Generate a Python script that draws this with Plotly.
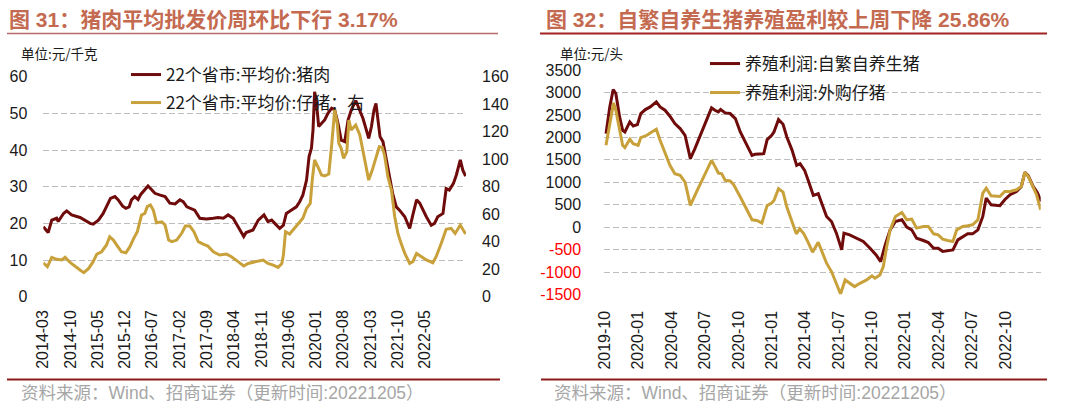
import plotly.graph_objects as go
import pandas as pd

# ---------------- data ----------------
pork_dates = ["2014-03-01","2014-04-07","2014-05-04","2014-06-10","2014-06-22","2014-08-01","2014-08-25","2014-10-01",
              "2014-12-04","2015-01-10","2015-02-18","2015-03-13","2015-04-22","2015-05-28","2015-06-22","2015-07-22",
              "2015-08-25","2015-09-19","2015-10-22","2015-11-16","2015-12-10","2015-12-28","2016-01-22","2016-02-16",
              "2016-03-07","2016-04-16","2016-05-01","2016-05-25","2016-06-22","2016-08-01","2016-09-07","2016-10-13",
              "2016-11-22","2016-12-28","2017-01-22","2017-02-19","2017-03-25","2017-04-19","2017-05-28","2017-07-16",
              "2017-09-07","2017-10-13","2017-11-22","2017-12-28","2018-02-04","2018-03-13","2018-04-25","2018-05-13",
              "2018-07-04","2018-08-13","2018-09-25","2018-10-25","2018-11-22","2018-12-16","2019-01-22","2019-02-19",
              "2019-03-13","2019-04-19","2019-05-28","2019-06-22","2019-07-16","2019-08-13","2019-09-01","2019-09-19",
              "2019-10-01","2019-10-13","2019-10-25","2019-11-13","2019-12-04","2019-12-28","2020-01-22","2020-02-19",
              "2020-03-13","2020-04-07","2020-05-01","2020-05-28","2020-06-22","2020-07-16","2020-08-19","2020-09-19",
              "2020-10-13","2020-11-07","2020-11-25","2020-12-16","2021-01-04","2021-01-19","2021-02-04","2021-02-19",
              "2021-03-13","2021-04-07","2021-05-01","2021-05-25","2021-06-22","2021-07-16","2021-08-25","2021-10-01",
              "2021-10-25","2021-11-22","2021-12-16","2022-01-10","2022-02-04","2022-03-13","2022-04-07","2022-05-01",
              "2022-06-10","2022-07-04","2022-07-28","2022-08-28","2022-09-19","2022-10-19","2022-11-07","2022-11-28"]
pork_vals = [19.1,17.5,20.9,21.4,20.5,22.7,23.4,22.3,
             21.6,20.9,20.0,19.8,20.9,22.7,24.5,26.8,
             27.3,26.4,24.7,24.1,24.5,26.4,27.3,26.5,
             27.9,29.8,30.2,29.3,28.2,27.7,27.3,25.5,
             25.3,26.4,25.9,24.5,24.1,23.6,21.4,21.2,
             21.4,21.6,21.4,22.3,21.4,19.1,16.4,17.5,
             18.2,20.9,22.3,20.5,20.9,20.0,18.6,19.5,
             22.7,23.6,24.5,25.9,27.7,31.8,38.2,40.5,
             45.5,55.9,53.6,46.4,47.3,48.2,50.0,51.4,
             50.9,47.3,42.7,42.3,48.2,50.9,53.5,50.9,
             48.6,45.5,43.2,46.4,50.9,52.7,48.2,43.6,
             42.3,37.3,32.7,28.2,24.5,23.6,21.8,18.6,
             22.3,26.4,25.5,23.6,21.8,19.5,20.0,21.8,
             22.7,29.5,29.1,30.9,33.2,37.3,34.5,32.9]

piglet_dates = ["2014-03-01","2014-04-01","2014-05-04","2014-06-10","2014-07-19","2014-08-13","2014-09-22","2014-10-28",
                "2014-12-04","2015-01-01","2015-02-07","2015-03-13","2015-04-10","2015-05-16","2015-06-22","2015-07-16",
                "2015-08-13","2015-09-13","2015-10-13","2015-11-16","2015-12-16","2016-01-10","2016-02-10","2016-03-13",
                "2016-04-07","2016-04-25","2016-05-19","2016-06-10","2016-07-04","2016-08-13","2016-09-07","2016-10-04",
                "2016-10-28","2016-12-04","2017-01-13","2017-02-07","2017-03-13","2017-04-13","2017-05-16","2017-06-22",
                "2017-07-28","2017-09-07","2017-10-25","2017-12-16","2018-01-22","2018-03-13","2018-04-25","2018-05-28",
                "2018-08-13","2018-09-19","2018-10-25","2018-12-04","2019-01-10","2019-02-07","2019-02-19","2019-03-07",
                "2019-04-07","2019-05-01","2019-05-28","2019-06-22","2019-07-16","2019-08-13","2019-09-10","2019-09-25",
                "2019-10-13","2019-11-07","2019-12-04","2019-12-28","2020-01-28","2020-02-19","2020-03-13","2020-04-01",
                "2020-04-13","2020-05-01","2020-05-19","2020-06-13","2020-06-28","2020-07-16","2020-08-19","2020-09-19",
                "2020-10-25","2020-11-25","2020-12-22","2021-01-19","2021-02-13","2021-03-07","2021-03-25","2021-04-19",
                "2021-05-16","2021-06-10","2021-07-04","2021-07-28","2021-08-25","2021-10-01","2021-10-25","2021-11-22",
                "2021-12-28","2022-02-04","2022-03-25","2022-04-19","2022-05-28","2022-07-04","2022-08-10","2022-09-10",
                "2022-10-19","2022-11-28"]
piglet_vals = [24.7,21.8,28.6,27.2,26.7,28.6,24.7,21.8,
               19.4,17.5,20.6,25.5,31.0,32.7,37.6,43.6,
               41.2,36.8,32.7,32.0,36.4,41.7,47.3,59.4,
               60.6,65.5,66.7,63.0,53.8,54.5,52.1,41.2,
               40.0,41.2,46.5,51.4,51.4,47.3,40.0,38.3,
               36.8,32.7,30.3,31.0,29.1,25.5,22.3,24.2,
               26.2,26.7,24.2,23.0,21.3,24.2,30.3,47.3,
               45.6,48.5,50.9,54.5,57.0,64.2,67.9,84.8,
               99.4,94.5,88.5,87.8,89.2,110.3,136.0,126.0,
               111.5,107.9,100.6,105.5,128.5,121.2,124.8,117.6,
               100.6,84.8,92.1,101.8,109.0,108.6,103.0,87.3,
               77.6,58.2,46.0,38.8,31.5,24.2,25.5,31.5,
               29.1,26.7,24.7,29.1,38.8,49.0,49.7,46.0,
               52.1,45.6]

self_dates = ["2019-10-01","2019-10-11","2019-10-20","2019-10-27","2019-11-06","2019-11-14","2019-11-20","2019-12-03",
              "2019-12-12","2019-12-23","2020-01-01","2020-01-13","2020-01-26","2020-02-11","2020-02-21","2020-03-05",
              "2020-03-18","2020-03-31","2020-04-14","2020-04-27","2020-05-03","2020-05-11","2020-05-23","2020-06-06",
              "2020-06-21","2020-07-06","2020-07-15","2020-07-24","2020-07-30","2020-08-11","2020-08-24","2020-09-07",
              "2020-09-20","2020-10-07","2020-10-21","2020-10-29","2020-11-12","2020-11-21","2020-11-30","2020-12-12",
              "2020-12-18","2020-12-30","2021-01-11","2021-01-21","2021-02-04","2021-02-16","2021-02-25","2021-03-09",
              "2021-03-20","2021-04-01","2021-04-14","2021-05-06","2021-05-19","2021-06-01","2021-06-15","2021-06-21",
              "2021-07-06","2021-07-24","2021-08-11","2021-08-29","2021-09-14","2021-09-26","2021-10-08","2021-10-21",
              "2021-11-04","2021-11-21","2021-12-04","2021-12-17","2021-12-30","2022-01-17","2022-01-30","2022-02-13",
              "2022-02-25","2022-03-09","2022-03-22","2022-04-05","2022-04-18","2022-05-01","2022-05-14","2022-05-27",
              "2022-06-10","2022-06-23","2022-07-02","2022-07-15","2022-08-07","2022-08-20","2022-09-03","2022-09-20",
              "2022-10-03","2022-10-12","2022-10-21","2022-11-03","2022-11-14","2022-11-24"]
self_vals = [2083,2678,3065,2976,2455,2158,2120,2344,
             2254,2284,2530,2619,2678,2790,2678,2604,
             2470,2306,2195,2046,1823,1525,1748,2046,
             2381,2656,2604,2567,2619,2544,2530,2418,
             2120,1823,1600,1622,1622,1637,1949,2046,
             2120,2396,2292,2009,1711,1376,1414,1265,
             1004,707,744,238,126,-134,-506,-134,
             -171,-246,-320,-469,-618,-766,-394,-60,
             126,164,0,-60,-246,-298,-342,-469,
             -469,-543,-521,-506,-283,-208,-149,-149,
             -60,238,647,498,476,610,722,796,
             908,1220,1146,908,774,573]

buy_dates = ["2019-10-01","2019-10-11","2019-10-21","2019-10-27","2019-11-06","2019-11-14","2019-11-20","2019-12-03",
             "2019-12-12","2019-12-25","2020-01-01","2020-01-17","2020-01-30","2020-02-11","2020-02-21","2020-03-05",
             "2020-03-18","2020-03-31","2020-04-14","2020-04-27","2020-05-03","2020-05-11","2020-05-27","2020-06-14",
             "2020-07-06","2020-07-15","2020-07-24","2020-08-02","2020-08-11","2020-08-24","2020-09-02","2020-09-20",
             "2020-10-07","2020-10-21","2020-11-03","2020-11-16","2020-11-30","2020-12-12","2020-12-18","2020-12-30",
             "2021-01-11","2021-01-21","2021-02-04","2021-02-15","2021-02-24","2021-03-07","2021-03-18","2021-03-30",
             "2021-04-14","2021-05-06","2021-05-19","2021-06-01","2021-06-12","2021-06-24","2021-07-06","2021-07-19",
             "2021-08-02","2021-08-20","2021-09-03","2021-09-11","2021-09-24","2021-10-03","2021-10-12","2021-10-21",
             "2021-11-04","2021-11-21","2021-12-04","2021-12-17","2021-12-30","2022-01-17","2022-01-30","2022-02-13",
             "2022-02-25","2022-03-09","2022-03-22","2022-04-05","2022-04-15","2022-05-01","2022-05-14","2022-05-27",
             "2022-06-10","2022-06-23","2022-07-02","2022-07-15","2022-08-07","2022-08-20","2022-09-03","2022-09-20",
             "2022-10-03","2022-10-12","2022-10-21","2022-11-03","2022-11-12","2022-11-23"]
buy_vals = [1823,2306,2768,2604,2158,1823,1771,1957,
            1860,1823,1994,2046,2120,2180,1934,1637,
            1376,1190,1153,1004,781,484,781,1116,
            1488,1354,1205,1190,1042,1027,952,670,
            372,164,149,89,484,536,595,856,
            781,446,112,-149,-37,-149,-335,-558,
            -335,-803,-989,-1250,-1490,-1176,-1250,-1324,
            -1250,-1176,-1086,-1138,-1064,-878,-432,-60,
            238,327,164,179,-22,15,15,-149,
            -171,-268,-298,-320,-60,15,30,52,
            164,759,870,699,684,796,796,833,
            908,1220,1131,908,722,387]

left_ticklabels = ["2014-03","2014-10","2015-05","2015-12","2016-07","2017-02","2017-09","2018-04",
                   "2018-11","2019-06","2020-01","2020-08","2021-03","2021-10","2022-05"]
right_ticklabels = ["2019-10","2020-01","2020-04","2020-07","2020-10","2021-01","2021-04","2021-07",
                    "2021-10","2022-01","2022-04","2022-07","2022-10"]
right_yvals = [-1500,-1000,-500,0,500,1000,1500,2000,2500,3000,3500]

title_left = "图 31：猪肉平均批发价周环比下行 3.17%"
title_right = "图 32：自繁自养生猪养殖盈利较上周下降 25.86%"
unit_left = "单位:元/千克"
unit_right = "单位:元/头"
source_text = "资料来源：Wind、招商证券（更新时间:20221205）"

# ---------------- styling ----------------
W, H = 1080, 413
def px(x): return x / W
def py(y): return 1 - y / H

RED = "#6F0B0B"
GOLD = "#C9A13B"
GRID = "#BDBDBD"
TXT = "#1A1A1A"
LAT = "Liberation Sans, Arial, Noto Sans CJK SC"
CJK = "Noto Sans CJK SC"
TITLE_C = "#C46A50"
DASH = "6px,3px"

# tick marks sit on the calendar; the reference's date labels are spaced slightly tighter
left_marks = [d.strftime("%Y-%m-%d") for d in pd.date_range("2014-03-01", periods=16, freq="7MS")]
left_lblpos = [(pd.Timestamp("2014-03-01") + pd.Timedelta(days=206.2 * k)).strftime("%Y-%m-%d")
               for k in range(len(left_ticklabels))]
right_marks = [d.strftime("%Y-%m-%d") for d in pd.date_range("2019-10-01", periods=13, freq="3MS")]
right_lblpos = [(pd.Timestamp("2019-10-01") + pd.Timedelta(days=88.25 * k - 2.6)).strftime("%Y-%m-%d")
                for k in range(len(right_ticklabels))]
right_ytext = [f'<span style="color:#FF0000">{v}</span>' if v < 0 else str(v) for v in right_yvals]

LRANGE = ["2014-03-01", "2022-12-01"]
RRANGE = ["2019-09-26", "2022-11-23"]
LDOM = [px(43.3), px(466)]
RDOM = [px(604.1), px(1040.7)]

fig = go.Figure()
fig.add_trace(go.Scatter(x=pork_dates, y=pork_vals, name="22个省市:平均价:猪肉", mode="lines",
                         line=dict(color=RED, width=3), xaxis="x", yaxis="y", legend="legend"))
fig.add_trace(go.Scatter(x=piglet_dates, y=piglet_vals, name="22个省市:平均价:仔猪：右", mode="lines",
                         line=dict(color=GOLD, width=3), xaxis="x", yaxis="y2", legend="legend2"))
fig.add_trace(go.Scatter(x=self_dates, y=self_vals, name="养殖利润:自繁自养生猪", mode="lines",
                         line=dict(color=RED, width=3), xaxis="x2", yaxis="y3", legend="legend3"))
fig.add_trace(go.Scatter(x=buy_dates, y=buy_vals, name="养殖利润:外购仔猪", mode="lines",
                         line=dict(color=GOLD, width=3), xaxis="x2", yaxis="y3", legend="legend4"))

tickfont = dict(family=LAT, size=16, color=TXT)
NO = dict(showgrid=False, zeroline=False, automargin=False)

fig.update_layout(
    width=W, height=H,
    margin=dict(l=0, r=0, t=0, b=0),
    paper_bgcolor="white", plot_bgcolor="white",
    font=dict(family=LAT, color=TXT),
    # ---- left panel: labels axis (carries the traces) ----
    xaxis=dict(domain=LDOM, anchor="y", type="date", range=LRANGE,
               tickmode="array", tickvals=left_lblpos, ticktext=left_ticklabels, tickangle=-90,
               ticks="outside", ticklen=6, tickcolor="rgba(0,0,0,0)", tickfont=tickfont,
               showline=False, **NO),
    # axis line + calendar tick marks
    xaxis3=dict(domain=LDOM, anchor="y", type="date", range=LRANGE,
                tickmode="array", tickvals=left_marks, showticklabels=False,
                ticks="outside", ticklen=5, tickcolor=GRID, tickwidth=1.5,
                showline=True, linecolor=GRID, linewidth=1.5, **NO),
    yaxis=dict(domain=[py(296.7), py(76.7)], anchor="x", range=[0, 60], dtick=10,
               tickmode="linear", tick0=0, showgrid=True, gridcolor=GRID, griddash=DASH,
               gridwidth=1.2, ticks="", showline=False, tickfont=tickfont,
               ticklabelstandoff=15, zeroline=False, automargin=False),
    yaxis2=dict(overlaying="y", anchor="x", side="right", range=[0, 160], dtick=20,
                tickmode="linear", tick0=0, ticks="", showline=False, tickfont=tickfont,
                ticklabelstandoff=15, **NO),
    # ---- right panel ----
    xaxis2=dict(domain=RDOM, anchor="y3", type="date", range=RRANGE,
                tickmode="array", tickvals=right_lblpos, ticktext=right_ticklabels, tickangle=-90,
                ticks="outside", ticklen=9, tickcolor="rgba(0,0,0,0)", tickfont=tickfont,
                showline=False, **NO),
    yaxis3=dict(domain=[py(294.5), py(70)], anchor="x2", range=[-1500, 3500],
                tickmode="array", tickvals=right_yvals, ticktext=right_ytext,
                showgrid=True, gridcolor=GRID, griddash=DASH, gridwidth=1.2,
                ticks="", showline=False, tickfont=tickfont, ticklabelstandoff=22,
                zeroline=False, automargin=False),
    # helper axes: the right panel's horizontal axis line sits at the zero level
    xaxis4=dict(domain=RDOM, anchor="y4", type="date", range=RRANGE,
                tickmode="array", tickvals=right_marks, showticklabels=False,
                ticks="outside", ticklen=5, tickcolor=GRID, tickwidth=1.5,
                showline=True, linecolor=GRID, linewidth=1.5, **NO),
    yaxis4=dict(domain=[py(227.7), py(70)], anchor="x4", range=[0, 1],
                showticklabels=False, ticks="", showline=False, **NO),
    showlegend=True,
)

legfont = dict(family=CJK, size=17, color=TXT)
def leg(x, y):
    return dict(x=px(x), y=py(y), xanchor="left", yanchor="middle", bgcolor="rgba(0,0,0,0)",
                borderwidth=0, font=legfont, itemwidth=30)
fig.update_layout(legend=leg(126, 75), legend2=leg(126, 103),
                  legend3=leg(705, 64), legend4=leg(705, 93))

ann = []
for x0, t in [(7, title_left), (544, title_right)]:
    ann.append(dict(x=px(x0), y=py(20), text=f"<b>{t}</b>", showarrow=False, xanchor="left",
                    yanchor="middle", font=dict(family=LAT, size=21, color=TITLE_C),
                    xref="paper", yref="paper"))
for x0, t in [(19, unit_left), (558, unit_right)]:
    ann.append(dict(x=px(x0), y=py(53), text=t, showarrow=False, xanchor="left", yanchor="middle",
                    font=dict(family=CJK, size=13.5, color=TXT), xref="paper", yref="paper"))
for x0 in [19, 552]:
    ann.append(dict(x=px(x0), y=py(393), text=source_text, showarrow=False, xanchor="left",
                    yanchor="middle", font=dict(family=LAT, size=17.5, color="#A6A6A6"),
                    xref="paper", yref="paper"))
fig.update_layout(annotations=ann)

shapes = [
    dict(type="line", xref="paper", yref="paper", x0=px(7), x1=px(498), y0=py(33.5), y1=py(33.5),
         line=dict(color="#B86A6A", width=1.5)),
    dict(type="line", xref="paper", yref="paper", x0=px(540), x1=px(1047), y0=py(33.5), y1=py(33.5),
         line=dict(color="#A32222", width=2)),
    dict(type="line", xref="paper", yref="paper", x0=px(7), x1=px(500), y0=py(379.5), y1=py(379.5),
         line=dict(color="#8E1B1B", width=2)),
    dict(type="line", xref="paper", yref="paper", x0=px(541), x1=px(1047), y0=py(379.5), y1=py(379.5),
         line=dict(color="#8E1B1B", width=2)),
]
fig.update_layout(shapes=shapes)

fig.write_html("out.html", config={"displayModeBar": False},
               post_script="document.body.style.margin='0';document.body.style.padding='0';"
                           "document.body.style.overflow='hidden';")
